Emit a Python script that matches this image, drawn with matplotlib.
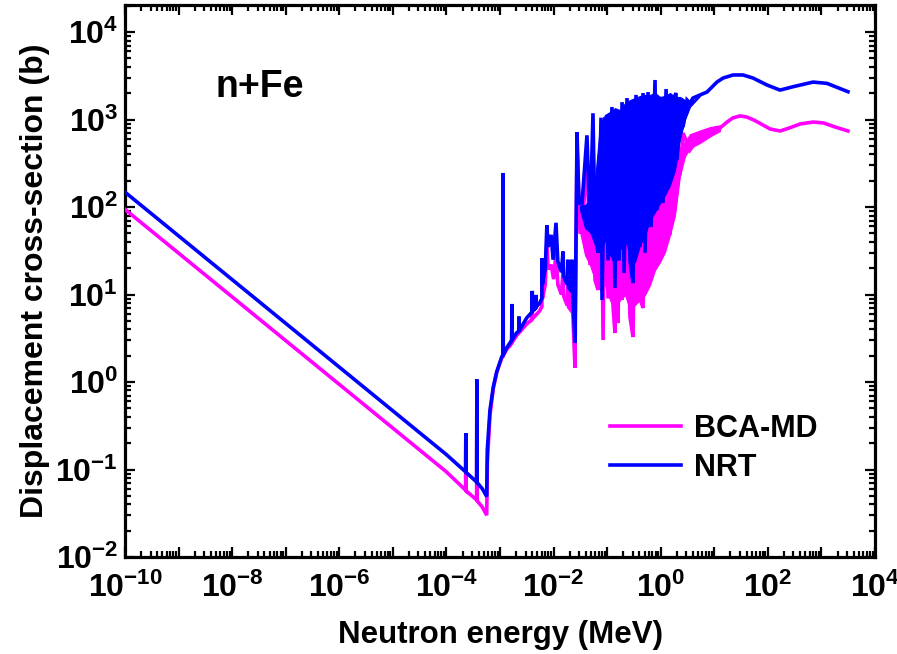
import numpy as np
import matplotlib
matplotlib.use('Agg')
import matplotlib.pyplot as plt
from matplotlib.ticker import FixedLocator, LogLocator, FuncFormatter, NullFormatter

plt.rcParams['font.family'] = ['Liberation Sans', 'DejaVu Sans']
plt.rcParams['font.weight'] = 'bold'
plt.rcParams['mathtext.fontset'] = 'custom'
plt.rcParams['mathtext.rm'] = 'Liberation Sans:bold'
plt.rcParams['mathtext.bf'] = 'Liberation Sans:bold'
plt.rcParams['mathtext.it'] = 'Liberation Sans:bold:italic'

# ---------------- data (energy in MeV, cross-section in barn) ----------------
nrt_energy = [1e-10, 1e-6, 1e-4, 2.28e-4, 2.30e-4, 2.32e-4, 3.66e-4, 3.70e-4, 3.74e-4, 4.7e-4,
              5.65e-4, 5.79e-4, 6.5e-4, 7.5e-4, 8.7e-4, 1.08e-3, 1.13e-3, 1.14e-3, 1.15e-3, 1.33e-3,
              1.65e-3, 1.67e-3, 1.69e-3, 2.05e-3, 2.24e-3, 2.26e-3, 2.28e-3, 3.15e-3, 3.95e-3, 4.0e-3,
              4.05e-3, 4.65e-3, 4.7e-3, 4.75e-3, 5.5e-3, 6.05e-3, 6.1e-3, 6.2e-3, 7.0e-3, 7.5e-3,
              7.9e-3, 9.0e-3, 9.8e-3, 1.11e-2, 1.2e-2, 1.4e-2, 1.5e-2, 1.55e-2, 1.8e-2, 1.86e-2,
              1.9e-2, 2.15e-2, 2.2e-2, 2.3e-2, 2.51e-2, 2.74e-2, 2.98e-2, 3.4e-2, 4.2e-2, 4.79e-2,
              5.44e-2, 5.94e-2, 6.76e-2, 7.69e-2, 8.03e-2, 9.14e-2, 0.104, 0.123, 0.140, 0.153,
              0.167, 0.190, 0.207, 0.235, 0.267, 0.304, 0.346, 0.411, 0.468, 0.51,
              0.58, 0.66, 0.783, 0.853, 0.97, 1.10, 1.26, 1.37, 1.63, 1.93,
              2.01, 2.39, 2.61, 3.10, 3.52, 4.0, 5.42, 7.3, 11.2, 14.6,
              22.4, 34.4, 52.8, 96.4, 169, 295, 697, 1270, 3130]
nrt_xs = [148, 1.48, 0.148, 0.094, 0.26, 0.093, 0.072, 1.07, 0.071, 0.060,
          0.049, 0.167, 0.48, 0.88, 1.31, 1.95, 2.0, 245, 2.05, 2.45,
          3.0, 7.8, 3.05, 3.66, 3.8, 5.6, 3.85, 5.4, 6.3, 11,
          6.5, 7.0, 9.9, 7.2, 8.0, 9, 26, 13, 20, 62,
          35, 48, 25, 66, 24, 18, 31, 16, 13, 25,
          12, 11, 25, 9, 2.8, 720, 111, 111, 660, 59,
          1180, 50, 30, 1050, 8.65, 1070, 24.5, 1390, 11.9, 1190,
          24.5, 1580, 17.6, 1760, 24.5, 13.5, 1910, 35, 2010, 30,
          2060, 59, 2830, 92, 1810, 111, 2230, 169, 1540, 2010,
          344, 1760, 821, 1670, 1540, 1760, 1910, 2060, 2680, 2980,
          3230, 3230, 2980, 2480, 2170, 2370, 2680, 2590, 2080]

# dense resonance region of NRT (envelope of the unresolved oscillations)
nrt_band_energy = [0.0312, 0.0386, 0.0479, 0.0594, 0.0736, 0.0914, 0.113, 0.140, 0.174, 0.216,
                   0.267, 0.331, 0.411, 0.509, 0.631, 0.783, 0.970, 1.20, 1.49, 1.85,
                   2.29, 2.84, 3.52, 5.42]
nrt_band_low = [92.4, 57.5, 51.8, 36.8, 30.6, 42.0, 28.3, 21.7, 32.3, 42.0,
                28.3, 23.5, 36.8, 47.9, 71.0, 87.7, 111, 137, 178, 265,
                600, 1000, 1400, 1860]
nrt_band_high = [105, 105, 120, 204, 865, 1130, 1220, 1350, 1280, 1540,
                 1670, 1760, 1860, 1910, 1910, 2010, 1810, 1860, 2010, 1810,
                 1810, 1670, 1580, 1860]

bca_energy = [1e-10, 1e-6, 1e-4, 2.28e-4, 2.30e-4, 2.32e-4, 3.66e-4, 3.70e-4, 3.74e-4, 4.7e-4,
              5.65e-4, 5.8e-4, 6.5e-4, 7.5e-4, 8.7e-4, 1.08e-3, 1.13e-3, 1.14e-3, 1.15e-3, 1.33e-3,
              1.65e-3, 1.67e-3, 1.69e-3, 2.05e-3, 3.15e-3, 3.95e-3, 4.0e-3, 4.05e-3, 5.5e-3, 6.05e-3,
              6.1e-3, 6.2e-3, 7.0e-3, 7.5e-3, 7.9e-3, 8.5e-3, 9.0e-3, 1.0e-2, 1.11e-2, 1.2e-2,
              1.4e-2, 1.5e-2, 1.55e-2, 1.8e-2, 1.86e-2, 1.9e-2, 2.15e-2, 2.2e-2, 2.3e-2, 2.51e-2,
              2.74e-2, 3.12e-2, 3.4e-2, 4.2e-2, 4.79e-2, 5.44e-2, 5.94e-2, 6.76e-2, 7.69e-2, 8.39e-2,
              9.14e-2, 0.104, 0.113, 0.129, 0.140, 0.153, 0.160, 0.174, 0.190, 0.216,
              0.267, 0.304, 0.346, 0.411, 0.468, 0.509, 0.579, 0.66, 0.783, 0.97,
              1.10, 1.26, 1.49, 1.93, 2.29, 2.61, 3.52, 5.42, 8.32, 12.8,
              17.3, 22, 30, 40, 55, 75, 110, 170, 250, 400,
              700, 1100, 1800, 3130]
bca_xs = [94, 0.94, 0.094, 0.058, 0.2, 0.057, 0.045, 0.8, 0.044, 0.037,
          0.030, 0.12, 0.42, 0.85, 1.3, 1.9, 1.95, 180, 2.0, 2.35,
          2.8, 6, 2.85, 3.4, 4.6, 5.2, 8, 5.3, 6.5, 7.3,
          18, 9, 13, 40, 20, 20, 22, 15, 30, 13,
          10, 18, 9.5, 7.5, 14, 7.2, 6.5, 12, 5.5, 1.45,
          500, 51.8, 52, 400, 21.7, 600, 14.6, 11.3, 500, 3.02,
          500, 9, 600, 7.19, 3.63, 600, 4.72, 500, 8.65, 700,
          5.53, 3.27, 700, 9, 7.01, 800, 12.2, 700, 19.1, 800,
          30, 900, 47.9, 900, 230, 700, 448, 650, 700, 800,
          936, 1040, 1100, 1070, 987, 889, 780, 740, 800, 889,
          936, 913, 821, 740]

bca_band_energy = [0.0312, 0.0386, 0.0479, 0.0594, 0.0736, 0.0914, 0.113, 0.140, 0.174, 0.216,
                   0.267, 0.331, 0.411, 0.509, 0.631, 0.783, 0.970, 1.20, 1.49, 1.85,
                   2.29, 2.84, 3.52, 5.42, 8.32, 12.8]
bca_band_low = [51.8, 28.3, 21.7, 14.6, 11.3, 12.8, 8.65, 6.65, 8.65, 9.87,
                6.65, 7.59, 8.65, 9.87, 12.8, 19.1, 23.5, 30.6, 47.9, 81.0,
                230, 380, 470, 540, 640, 740]
bca_band_high = [92.4, 57.5, 51.8, 36.8, 30.6, 42.0, 28.3, 21.7, 32.3, 42.0,
                 28.3, 23.5, 36.8, 47.9, 71.0, 87.7, 111, 137, 178, 265,
                 480, 560, 680, 750, 820, 860]

x_tick_exponents = list(range(-10, 5))
y_tick_exponents = list(range(-2, 5))

# ---------------- figure ----------------
fig = plt.figure(figsize=(8.97, 6.54), dpi=100)
ax = fig.add_axes([125 / 897, (654 - 557) / 654, 750 / 897, 552 / 654])

magenta = '#FF00FF'
blue = '#0000FF'
lw = 2.6

ax.fill_between(bca_band_energy, bca_band_low, bca_band_high, color=magenta, lw=0.8,
                edgecolor=magenta, zorder=2)
ax.plot(bca_energy, bca_xs, color=magenta, lw=lw, label='BCA-MD', zorder=3,
        solid_joinstyle='miter')
ax.fill_between(nrt_band_energy, nrt_band_low, nrt_band_high, color=blue, lw=0.8,
                edgecolor=blue, zorder=4)
ax.plot(nrt_energy, nrt_xs, color=blue, lw=lw, label='NRT', zorder=5,
        solid_joinstyle='miter')

ax.set_xscale('log')
ax.set_yscale('log')
ax.set_xlim(1e-10, 1e4)
ax.set_ylim(1e-2, 10 ** 4.309)

ax.xaxis.set_major_locator(FixedLocator([10.0 ** e for e in x_tick_exponents]))
ax.xaxis.set_minor_locator(LogLocator(base=10, subs=np.arange(2, 10), numticks=100))
ax.yaxis.set_major_locator(FixedLocator([10.0 ** e for e in y_tick_exponents]))
ax.yaxis.set_minor_locator(LogLocator(base=10, subs=np.arange(2, 10), numticks=100))


def xfmt(v, pos):
    e = int(round(np.log10(v)))
    if e % 2 != 0:
        return ''
    return r'$\mathbf{10^{%d}}$' % e


def yfmt(v, pos):
    e = int(round(np.log10(v)))
    return r'$\mathbf{10^{%d}}$' % e


ax.xaxis.set_major_formatter(FuncFormatter(xfmt))
ax.yaxis.set_major_formatter(FuncFormatter(yfmt))
ax.xaxis.set_minor_formatter(NullFormatter())
ax.yaxis.set_minor_formatter(NullFormatter())

ax.tick_params(which='both', direction='in', top=True, right=True, width=1.6)
ax.tick_params(which='major', length=7.5, labelsize=23)
ax.tick_params(axis='x', which='major', pad=11)
ax.tick_params(axis='y', which='major', pad=5)
ax.tick_params(which='minor', length=4.5)
for s in ax.spines.values():
    s.set_linewidth(2.3)

ax.set_xlabel('Neutron energy (MeV)', fontsize=22.5, fontweight='bold', labelpad=12)
ax.set_ylabel('Displacement cross-section (b)', fontsize=23, fontweight='bold', labelpad=4)

ax.text(0.12, 0.851, 'n+Fe', transform=ax.transAxes, fontsize=27, fontweight='bold',
        ha='left', va='center')

leg = ax.legend(loc='center left', bbox_to_anchor=(0.646, 0.197), frameon=False,
                fontsize=22, handlelength=2.35, handletextpad=0.4, labelspacing=0.3,
                borderpad=0, borderaxespad=0)
for t in leg.get_texts():
    t.set_fontweight('bold')

fig.savefig('out.png', dpi=100)
